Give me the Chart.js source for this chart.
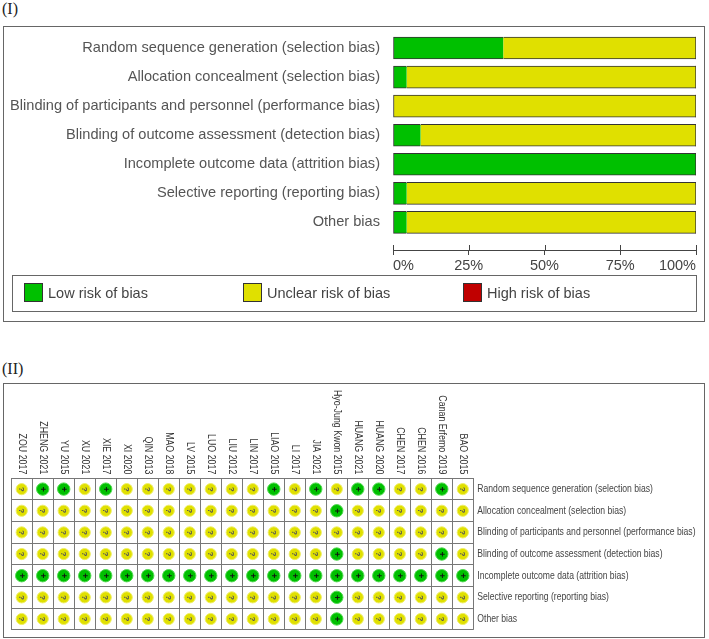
<!DOCTYPE html>
<html>
<head>
<meta charset="utf-8">
<script src="https://cdn.jsdelivr.net/npm/chart.js@4/dist/chart.umd.min.js"></script>
<style>
  body { margin: 0; background: #fff; width: 709px; height: 639px; position: relative; overflow: hidden; font-family: "Liberation Sans", Arial, sans-serif; }
  .tag { position: absolute; left: 2px; font: 16px "Liberation Serif", "Times New Roman", serif; color: #222; }
  .box { position: absolute; box-sizing: border-box; border: 1px solid #666; }
  canvas { position: absolute; }
  .leg { position: absolute; top: 7px; font-size: 14.5px; color: #444; line-height: 19px; }
  .leg span { position: absolute; top: 0; left: 0; width: 19px; height: 19px; box-sizing: border-box; border: 1px solid #333; }
  .leg b { font-weight: normal; position: absolute; left: 24px; top: 1px; white-space: nowrap; }
</style>
</head>
<body>
<div class="tag" style="top:0px">(I)</div>
<div class="box" style="left:3px;top:26px;width:702px;height:296px"></div>
<canvas id="grafico_barras" width="700" height="253" style="left:4px;top:27px;width:700px;height:253px"></canvas>
<div class="box" style="left:12px;top:275px;width:685px;height:37px">
  <div class="leg" style="left:11px"><span style="background:#00c000"></span><b>Low risk of bias</b></div>
  <div class="leg" style="left:230px"><span style="background:#e0e000"></span><b>Unclear risk of bias</b></div>
  <div class="leg" style="left:450px"><span style="background:#c00000"></span><b>High risk of bias</b></div>
</div>

<div class="tag" style="top:360px">(II)</div>
<div class="box" style="left:3px;top:383px;width:702px;height:255px"></div>
<canvas id="grafico_resumo" width="700" height="253" style="left:4px;top:384px;width:700px;height:253px"></canvas>

<script>
// dominios de risco de vies
var dominios = [
    'Random sequence generation (selection bias)',
    'Allocation concealment (selection bias)',
    'Blinding of participants and personnel (performance bias)',
    'Blinding of outcome assessment (detection bias)',
    'Incomplete outcome data (attrition bias)',
    'Selective reporting (reporting bias)',
    'Other bias'
];

// percentuais do grafico (I)
var baixo = [36.4, 4.5, 0, 9.1, 100, 4.5, 4.5];
var incerto = [63.6, 95.5, 100, 90.9, 0, 95.5, 95.5];
var alto = [0, 0, 0, 0, 0, 0, 0];
var ticksX = [0, 25, 50, 75, 100];

// estudos do grafico (II)
var estudos = ['ZOU 2017', 'ZHENG 2021', 'YU 2015', 'XU 2021', 'XIE 2017', 'XI 2020', 'QIN 2013',
    'MAO 2018', 'LV 2015', 'LUO 2017', 'LIU 2012', 'LIN 2017', 'LIAO 2015', 'LI 2017', 'JIA 2021',
    'Hyo-Jung Kwon 2015', 'HUANG 2021', 'HUANG 2020', 'CHEN 2017', 'CHEN 2016', 'Canan Erfemo 2019', 'BAO 2015'];

// julgamentos por dominio ('+' baixo, '?' incerto)
var sequencia = ['?','+','+','?','+','?','?','?','?','?','?','?','+','?','+','?','+','+','?','?','+','?'];
var alocacao  = ['?','?','?','?','?','?','?','?','?','?','?','?','?','?','?','+','?','?','?','?','?','?'];
var cegParticipantes = ['?','?','?','?','?','?','?','?','?','?','?','?','?','?','?','?','?','?','?','?','?','?'];
var cegAvaliacao = ['?','?','?','?','?','?','?','?','?','?','?','?','?','?','?','+','?','?','?','?','+','?'];
var incompletos = ['+','+','+','+','+','+','+','+','+','+','+','+','+','+','+','+','+','+','+','+','+','+'];
var seletivo = ['?','?','?','?','?','?','?','?','?','?','?','?','?','?','?','+','?','?','?','?','?','?'];
var outros = ['?','?','?','?','?','?','?','?','?','?','?','?','?','?','?','+','?','?','?','?','?','?'];
var julgamentos = [sequencia, alocacao, cegParticipantes, cegAvaliacao, incompletos, seletivo, outros];

var fonte = '"Liberation Sans", Arial, sans-serif';

function criarGraficoBarras() {
    // tracinhos acima do eixo x
    var tracosEixo = {
        id: 'tracosEixo',
        afterDraw: function (chart) {
            var ctx = chart.ctx;
            var sx = chart.scales.x;
            var y = chart.chartArea.bottom;
            ctx.save();
            ctx.strokeStyle = '#444';
            ctx.lineWidth = 1;
            ticksX.forEach(function (t) {
                var x = Math.round(sx.getPixelForValue(t)) + 0.5;
                ctx.beginPath();
                ctx.moveTo(x, y - 5);
                ctx.lineTo(x, y);
                ctx.stroke();
            });
            ctx.restore();
        }
    };

    var config = {
        type: 'bar',
        data: {
            datasets: [{
                label: 'Low risk of bias',
                data: baixo.map(function (v, i) { return { x: v, y: i }; }),
                backgroundColor: '#00c000',
                borderColor: '#333',
                borderWidth: 1,
                borderSkipped: function (c) { return incerto[c.dataIndex] > 0 ? 'right' : false; }
            }, {
                label: 'Unclear risk of bias',
                data: incerto.map(function (v, i) { return { x: v, y: i }; }),
                backgroundColor: '#e0e000',
                borderColor: '#333',
                borderWidth: 1,
                borderSkipped: function (c) { return baixo[c.dataIndex] > 0 ? 'left' : false; }
            }, {
                label: 'High risk of bias',
                data: alto.map(function (v, i) { return { x: v, y: i }; }),
                backgroundColor: '#c00000',
                borderWidth: 0
            }]
        },
        options: {
            indexAxis: 'y',
            responsive: false,
            animation: false,
            barThickness: 22,
            layout: { padding: { top: 6.5, right: 8, left: 0, bottom: 0 } },
            plugins: { legend: { display: false }, tooltip: { enabled: false } },
            scales: {
                x: {
                    type: 'linear', stacked: true, min: 0, max: 100,
                    afterBuildTicks: function (s) { s.ticks = ticksX.map(function (t) { return { value: t }; }); },
                    afterFit: function (s) { s.height = 30; },
                    ticks: {
                        callback: function (v) { return v + '%'; },
                        align: 'inner', padding: 2, color: '#444',
                        font: { family: fonte, size: 14.5 }
                    },
                    grid: { drawOnChartArea: false, tickLength: 5, color: '#444' },
                    border: { color: '#444' }
                },
                y: {
                    type: 'linear', stacked: true, reverse: true, offset: false, min: -0.5, max: 6.95,
                    afterBuildTicks: function (s) { s.ticks = dominios.map(function (d, i) { return { value: i }; }); },
                    afterFit: function (s) { s.width = 389; s.paddingTop = 0; s.paddingBottom = 0; },
                    ticks: {
                        autoSkip: false, padding: 13, color: '#555',
                        font: { family: fonte, size: 14.6 },
                        callback: function (v) { return dominios[v]; }
                    },
                    grid: { display: false, drawTicks: false },
                    border: { display: false }
                }
            }
        },
        plugins: [tracosEixo]
    };
    new Chart(document.getElementById('grafico_barras'), config);
}

function criarGraficoResumo() {
    var pontosBaixo = [];
    var pontosIncerto = [];
    julgamentos.forEach(function (linha, j) {
        linha.forEach(function (v, i) {
            var p = { x: estudos[i], y: dominios[j] };
            if (v === '+') pontosBaixo.push(p); else pontosIncerto.push(p);
        });
    });

    // textos girados e simbolos dentro dos circulos
    var rotulos = {
        id: 'rotulos',
        afterDatasetsDraw: function (chart) {
            var ctx = chart.ctx;
            var sx = chart.scales.x;
            var sy = chart.scales.y;
            var area = chart.chartArea;
            ctx.save();
            // simbolos
            chart.data.datasets.forEach(function (ds, k) {
                var meta = chart.getDatasetMeta(k);
                meta.data.forEach(function (el) {
                    ctx.save();
                    ctx.translate(el.x, el.y);
                    ctx.rotate(Math.PI / 2);
                    ctx.textAlign = 'center';
                    ctx.textBaseline = 'middle';
                    if (ds.simbolo === '+') {
                        ctx.fillStyle = '#111';
                        ctx.font = 'bold 9px ' + fonte;
                    } else {
                        ctx.fillStyle = '#555';
                        ctx.font = 'bold 8px ' + fonte;
                    }
                    ctx.fillText(ds.simbolo, 0, 0.5);
                    ctx.restore();
                });
            });
            // nomes dos estudos
            ctx.fillStyle = '#333';
            ctx.font = '10.5px ' + fonte;
            estudos.forEach(function (e, i) {
                ctx.save();
                ctx.translate(sx.getPixelForValue(i), area.top - 4);
                ctx.rotate(Math.PI / 2);
                ctx.scale(0.84, 1);
                ctx.textAlign = 'right';
                ctx.textBaseline = 'middle';
                ctx.fillText(e, 0, 0);
                ctx.restore();
            });
            // dominios a direita
            ctx.fillStyle = '#444';
            dominios.forEach(function (d, j) {
                ctx.save();
                ctx.translate(area.right + 4, sy.getPixelForValue(j));
                ctx.scale(0.82, 1);
                ctx.textAlign = 'left';
                ctx.textBaseline = 'middle';
                ctx.fillText(d, 0, 0);
                ctx.restore();
            });
            ctx.restore();
        }
    };

    var config = {
        type: 'scatter',
        data: {
            datasets: [{
                label: 'Low risk of bias',
                simbolo: '+',
                data: pontosBaixo,
                backgroundColor: '#00c000',
                borderColor: '#4fd84f',
                borderWidth: 1,
                pointRadius: 6.2
            }, {
                label: 'Unclear risk of bias',
                simbolo: '?',
                data: pontosIncerto,
                backgroundColor: '#e0e000',
                borderColor: '#eeee66',
                borderWidth: 1,
                pointRadius: 5.6
            }]
        },
        options: {
            responsive: false,
            animation: false,
            layout: { padding: { left: 3.3, top: 94.3, right: 230.7, bottom: 5.3 } },
            plugins: { legend: { display: false }, tooltip: { enabled: false } },
            scales: {
                x: {
                    type: 'category', labels: estudos, offset: true, position: 'top',
                    afterFit: function (s) { s.height = 0; },
                    ticks: { display: false },
                    grid: { offset: true, color: '#777', drawTicks: false },
                    border: { display: false }
                },
                y: {
                    type: 'category', labels: dominios, offset: true,
                    afterFit: function (s) { s.width = 0; },
                    ticks: { display: false },
                    grid: { offset: true, color: '#777', drawTicks: false },
                    border: { display: false }
                }
            }
        },
        plugins: [rotulos]
    };
    new Chart(document.getElementById('grafico_resumo'), config);
}

criarGraficoBarras();
criarGraficoResumo();
</script>
</body>
</html>
